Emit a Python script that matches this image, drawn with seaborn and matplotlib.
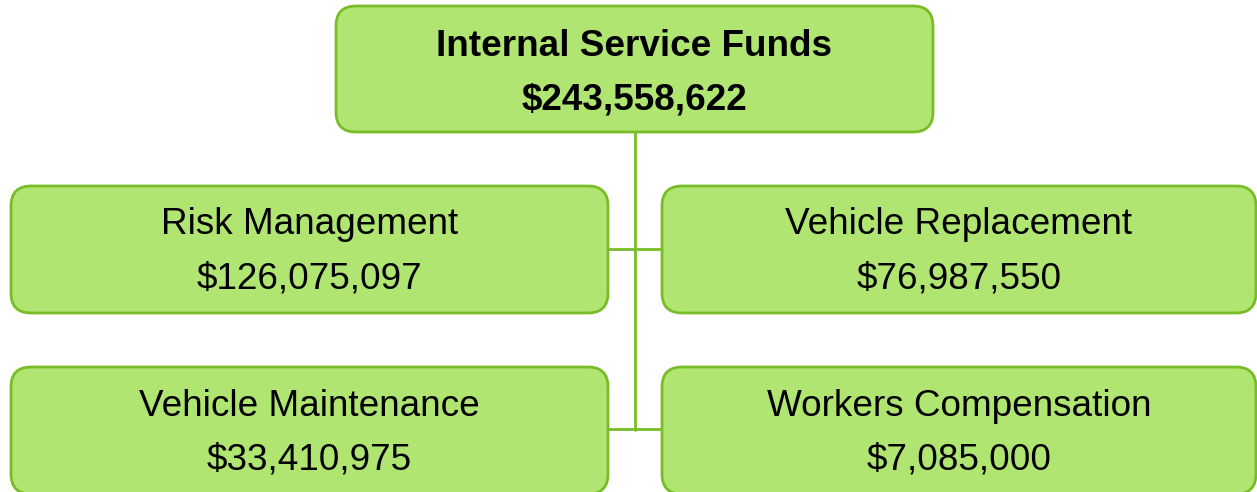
import matplotlib
matplotlib.use("Agg")
import matplotlib.pyplot as plt
from matplotlib.patches import FancyBboxPatch
import seaborn as sns

# Data
root_name = "Internal Service Funds"
root_value = 243558622
child_names = ["Risk Management", "Vehicle Replacement",
               "Vehicle Maintenance", "Workers Compensation"]
child_values = [126075097, 76987550, 33410975, 7085000]

sns.set_theme(style="white")
plt.rcParams['font.family'] = ['Liberation Sans', 'DejaVu Sans']

FILL = "#b0e572"
EDGE = "#78bd28"
W, H = 1257, 492
FS = 26.6

fig = plt.figure(figsize=(W / 100, H / 100), dpi=100)
ax = fig.add_axes([0, 0, 1, 1])
ax.set_xlim(0, W)
ax.set_ylim(H, 0)
ax.axis("off")


def box(x0, y0, x1, y1):
    p = FancyBboxPatch((x0, y0), x1 - x0, y1 - y0,
                       boxstyle="round,pad=0,rounding_size=20",
                       fc=FILL, ec=EDGE, lw=2.0, zorder=2)
    ax.add_patch(p)


def money(v):
    return "${:,}".format(v)


# connectors
cx = 635
ax.plot([cx, cx], [133, 430], color=EDGE, lw=2.0, zorder=1)
for yy in (249, 429):
    ax.plot([608, 662], [yy, yy], color=EDGE, lw=2.0, zorder=1)

# root
box(336, 6, 933, 132)
ax.text(634.5, 42, root_name, ha="center", va="center_baseline", fontsize=FS,
        fontweight="bold", color="black", zorder=3)
ax.text(634.5, 96, money(root_value), ha="center", va="center_baseline",
        fontsize=FS, fontweight="bold", color="black", zorder=3)

# children
rects = [(11, 186, 608, 313), (662, 186, 1256, 313),
         (11, 367, 608, 494), (662, 367, 1256, 494)]
for (x0, y0, x1, y1), name, val in zip(rects, child_names, child_values):
    box(x0, y0, x1, y1)
    xc = (x0 + x1) / 2
    ax.text(xc, y0 + 35, name, ha="center", va="center_baseline", fontsize=FS,
            color="black", zorder=3)
    ax.text(xc, y0 + 89, money(val), ha="center", va="center_baseline",
            fontsize=FS, color="black", zorder=3)

fig.savefig("out.png", dpi=100)
